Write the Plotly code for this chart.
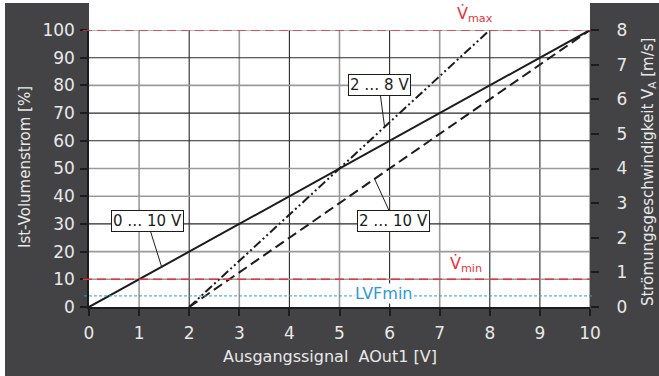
import plotly.graph_objects as go

# Output signal AOut1 [V] vs. actual volume flow [%] for the three signal ranges
x_0_10 = [0, 10]
y_0_10 = [0, 100]
x_2_10 = [2, 10]
y_2_10 = [0, 100]
x_2_8 = [2, 8]
y_2_8 = [0, 100]

vmax_pct = 100
vmin_pct = 10
lvfmin_pct = 4

x_ticks = list(range(0, 11))
y_ticks = list(range(0, 101, 10))
v_ticks = list(range(0, 9))          # flow velocity [m/s], 8 m/s = 100 %

range_labels = ["0 … 10 V", "2 … 8 V", "2 … 10 V"]
label_pos = [(1.16, 31.2), (5.79, 80.1), (6.08, 31.2)]
label_target = [(1.45, 14.5), (5.9, 65.0), (5.7, 46.25)]

PANEL = "#434345"
TICKTXT = "#e8e8e8"
INK = "#1c1c1c"
RED = "#e8343c"
BLUE = "#2b9ad6"
FONT = "DejaVu Sans"

fig = go.Figure()

fig.add_trace(go.Scatter(x=x_0_10, y=y_0_10, mode="lines",
                         line=dict(color=INK, width=2), showlegend=False))
fig.add_trace(go.Scatter(x=x_2_10, y=y_2_10, mode="lines",
                         line=dict(color=INK, width=2, dash="10px,5px"), showlegend=False))
fig.add_trace(go.Scatter(x=x_2_8, y=y_2_8, mode="lines",
                         line=dict(color=INK, width=2, dash="9px,3px,2px,3px,2px,3px"),
                         showlegend=False))
# invisible trace to carry the right-hand velocity axis
fig.add_trace(go.Scatter(x=[0], y=[0], yaxis="y2", mode="markers",
                         marker=dict(opacity=0), showlegend=False, hoverinfo="skip"))

shapes = []
# dark frame around the plot area
l = (5 - 89) / 501
r = (659 - 89) / 501
b = (307 - 376) / 277
t = (307 - 3) / 277
for x0, x1, y0, y1 in [(l, 0, b, t), (1, r, b, t), (l, r, b, 0)]:
    shapes.append(dict(type="rect", xref="paper", yref="paper", x0=x0, x1=x1, y0=y0, y1=y1,
                       fillcolor=PANEL, line=dict(width=0), layer="below"))

# grid: alternating dark and grey lines
dark_x = {2, 4, 6, 8, 9}
dark_y = {30, 60, 70, 90}
for xv in x_ticks[1:]:
    dark = xv in dark_x
    shapes.append(dict(type="line", xref="x", yref="paper", x0=xv, x1=xv, y0=0, y1=1,
                       line=dict(color="#2a2a2a" if dark else "#9a9a9a",
                                 width=1.1 if dark else 1.6), layer="below"))
for yv in y_ticks[1:]:
    dark = yv in dark_y
    shapes.append(dict(type="line", xref="paper", yref="y", x0=0, x1=1, y0=yv, y1=yv,
                       line=dict(color="#2a2a2a" if dark else "#9a9a9a",
                                 width=1.1 if dark else 1.6), layer="below"))

# limit lines
for yv in (vmax_pct, vmin_pct):
    shapes.append(dict(type="line", xref="paper", yref="y", x0=-0.012, x1=1, y0=yv, y1=yv,
                       line=dict(color=RED, width=1.6, dash="9px,5px")))
shapes.append(dict(type="line", xref="paper", yref="y", x0=-0.01, x1=1.006,
                   y0=lvfmin_pct, y1=lvfmin_pct,
                   line=dict(color=BLUE, width=1, dash="3px,2px")))

annotations = []
for text, (ax, ay), (px, py) in zip(range_labels, label_pos, label_target):
    annotations.append(dict(x=px, y=py, ax=ax, ay=ay, xref="x", yref="y", axref="x", ayref="y",
                            text=text, showarrow=True, arrowhead=0, arrowwidth=1,
                            arrowcolor=INK, font=dict(family=FONT, size=15, color=INK),
                            bgcolor="white", bordercolor=INK, borderwidth=1, borderpad=1))

annotations.append(dict(x=7.31, y=vmax_pct, xref="x", yref="y", xanchor="left", yanchor="bottom",
                        yshift=3, text="V\u0307<sub>max</sub>", showarrow=False,
                        font=dict(family=FONT, size=16, color=RED)))
annotations.append(dict(x=7.17, y=vmin_pct, xref="x", yref="y", xanchor="left", yanchor="bottom",
                        yshift=2, text="V\u0307<sub>min</sub>", showarrow=False,
                        font=dict(family=FONT, size=16, color=RED)))
annotations.append(dict(x=5.87, y=lvfmin_pct, xref="x", yref="y", yshift=2,
                        xanchor="center", yanchor="middle",
                        text="LVFmin", showarrow=False, bgcolor="white", borderpad=0,
                        font=dict(family=FONT, size=16, color=BLUE)))

# axis titles
title_font = dict(family=FONT, size=15, color=TICKTXT)
annotations.append(dict(x=(330 - 89) / 501, y=(307 - 356) / 277, xref="paper", yref="paper",
                        xanchor="center", yanchor="middle",
                        text="Ausgangssignal  AOut1 [V]", showarrow=False,
                        font=dict(family=FONT, size=16, color=TICKTXT)))
annotations.append(dict(x=(25 - 89) / 501, y=(307 - 167) / 277, xref="paper", yref="paper",
                        xanchor="center", yanchor="middle",
                        text="Ist-Volumenstrom [%]", textangle=-90, showarrow=False,
                        font=title_font))
annotations.append(dict(x=(648 - 89) / 501, y=(307 - 172) / 277, xref="paper", yref="paper",
                        xanchor="center", yanchor="middle",
                        text="Strömungsgeschwindigkeit V<sub>A</sub> [m/s]", textangle=-90,
                        showarrow=False, font=title_font))

axis_font = dict(family=FONT, size=17, color=TICKTXT)
fig.update_layout(
    width=659, height=376,
    margin=dict(l=89, r=69, t=30, b=69, pad=0),
    paper_bgcolor="white", plot_bgcolor="white",
    shapes=shapes, annotations=annotations,
    xaxis=dict(range=[0, 10], tickvals=x_ticks, showgrid=False, zeroline=False,
               showline=True, linecolor=INK, linewidth=1.5,
               ticks="outside", ticklen=7, tickcolor=INK, tickwidth=1.5,
               tickfont=axis_font, ticklabelstandoff=3, fixedrange=True),
    yaxis=dict(range=[0, 100], tickvals=y_ticks, showgrid=False, zeroline=False,
               showline=True, linecolor=INK, linewidth=1.5,
               ticks="outside", ticklen=7, tickcolor=INK, tickwidth=1.5,
               tickfont=axis_font, ticklabelstandoff=2),
    yaxis2=dict(range=[0, 8], tickvals=v_ticks, overlaying="y", side="right",
                showgrid=False, zeroline=False, showline=False,
                ticks="outside", ticklen=8, tickcolor=INK, tickwidth=1.5,
                tickfont=axis_font, ticklabelstandoff=14),
)

fig.write_html("out.html")
